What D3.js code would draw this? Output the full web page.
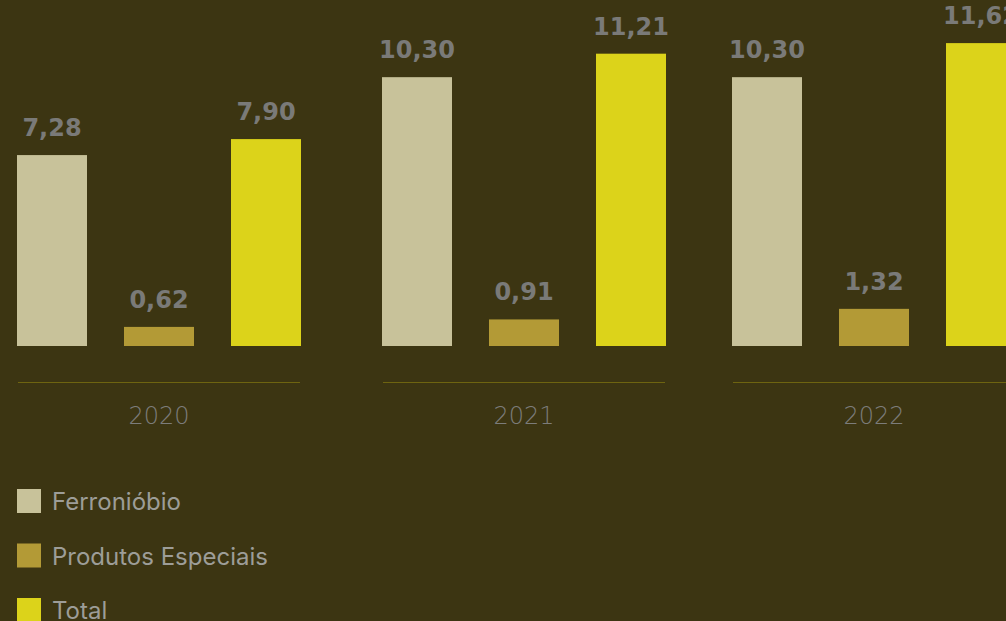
<!DOCTYPE html>
<html>
<head>
<meta charset="utf-8">
<script src="https://cdn.jsdelivr.net/npm/d3@7"></script>
<style>
  html, body { margin: 0; padding: 0; background: #3c3512; overflow: hidden; }
  svg { display: block; }
</style>
</head>
<body>
<svg id="chart"></svg>
<script>
// Data
const years = ["2020", "2021", "2022"];
const series = ["Ferronióbio", "Produtos Especiais", "Total"];
const ferroniobio = [7.28, 10.30, 10.30];
const produtosEspeciais = [0.62, 0.91, 1.32];
const total = [7.90, 11.21, 11.62];

const seriesValues = [ferroniobio, produtosEspeciais, total];

const dimensions = {
    width: 1006,
    height: 621,
    baseline: 346,
    barWidth: 70,
    barStep: 107,
};

const colorScale = d3.scaleOrdinal()
    .domain(series)
    .range(["#c8c29a", "#b39a36", "#dcd31a"]);

const svg = d3.select("#chart")
    .attr("width", dimensions.width)
    .attr("height", dimensions.height);

svg.append("rect")
    .attr("width", dimensions.width)
    .attr("height", dimensions.height)
    .attr("fill", "#3c3512");

// Scales
const yScale = d3.scaleLinear()
    .domain([-0.12, 12])
    .range([dimensions.baseline, dimensions.baseline - 25.8 * 12.12]);

const groupScale = d3.scaleOrdinal()
    .domain(years)
    .range([17, 382, 732]);

const barScale = d3.scalePoint()
    .domain(series)
    .range([0, dimensions.barStep * 2]);

const fmt = v => d3.format(".2f")(v).replace(".", ",");

// Groups
years.forEach((year, gi) => {
    const g = svg.append("g")
        .attr("transform", `translate(${groupScale(year)},0)`);

    const rows = series.map((s, si) => ({ series: s, value: seriesValues[si][gi] }));

    g.selectAll("rect")
        .data(rows)
        .enter()
        .append("rect")
        .attr("x", d => barScale(d.series))
        .attr("y", d => yScale(d.value))
        .attr("width", dimensions.barWidth)
        .attr("height", d => yScale(-0.12) - yScale(d.value))
        .attr("fill", d => colorScale(d.series));

    g.selectAll("text.value")
        .data(rows)
        .enter()
        .append("text")
        .attr("class", "value")
        .attr("x", d => barScale(d.series) + dimensions.barWidth / 2)
        .attr("y", d => yScale(d.value) - 19)
        .attr("text-anchor", "middle")
        .style("font-family", "'DejaVu Sans', sans-serif")
        .style("font-weight", "bold")
        .style("font-size", "24px")
        .attr("fill", "#7a7a78")
        .text(d => fmt(d.value));

    // separator line
    g.append("line")
        .attr("x1", 1)
        .attr("x2", dimensions.barStep * 2 + dimensions.barWidth - 1)
        .attr("y1", 382.5)
        .attr("y2", 382.5)
        .attr("stroke", "#6e6410")
        .attr("stroke-width", 1);

    g.append("text")
        .attr("x", dimensions.barStep + dimensions.barWidth / 2)
        .attr("y", 424)
        .attr("text-anchor", "middle")
        .style("font-family", "'DejaVu Sans', sans-serif")
        .style("font-weight", 200)
        .style("font-size", "24px")
        .attr("fill", "#7c7c7a")
        .text(year);
});

// Legend
const legendY = d3.scalePoint()
    .domain(series)
    .range([489, 598]);

const legend = svg.append("g");

series.forEach(s => {
    legend.append("rect")
        .attr("x", 17)
        .attr("y", legendY(s))
        .attr("width", 24)
        .attr("height", 24)
        .attr("fill", colorScale(s));

    legend.append("text")
        .attr("x", 52)
        .attr("y", legendY(s) + 21)
        .style("font-family", "Inter, sans-serif")
        .style("font-size", "24px")
        .attr("fill", "#9d9d98")
        .text(s);
});
</script>
</body>
</html>
